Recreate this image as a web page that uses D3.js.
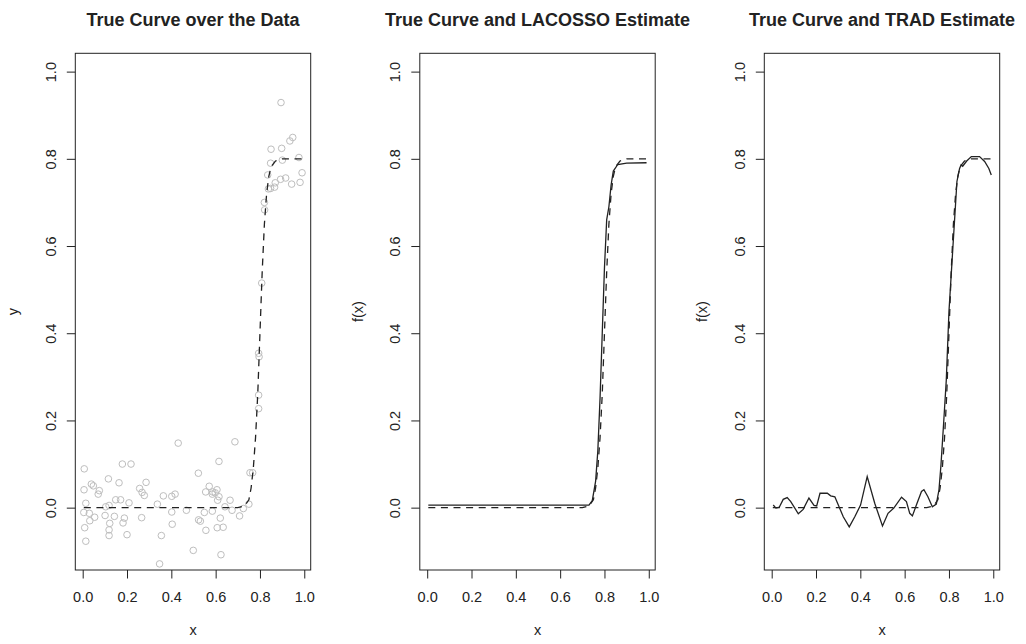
<!DOCTYPE html>
<html>
<head>
<meta charset="utf-8">
<script src="https://d3js.org/d3.v7.min.js"></script>
<style>
  body { margin: 0; background: #fff; }
  svg { font-family: "Liberation Sans", Arial, Helvetica, sans-serif; }
</style>
</head>
<body>
<script>
// data points (x, y)
var dataX = [0.007,0.006,0.014,0.005,0.030,0.009,0.014,0.032,0.054,0.039,
  0.048,0.075,0.070,0.116,0.104,0.119,0.101,0.122,0.119,0.119,
  0.143,0.149,0.171,0.164,0.179,0.218,0.188,0.182,0.200,0.209,
  0.257,0.268,0.278,0.286,0.266,0.337,0.355,0.347,0.364,0.402,
  0.417,0.431,0.402,0.404,0.468,0.499,0.522,0.523,0.531,0.549,
  0.556,0.555,0.571,0.585,0.587,0.606,0.615,0.598,0.615,0.609,
  0.585,0.621,0.607,0.634,0.624,0.642,0.665,0.674,0.687,0.708,
  0.725,0.750,0.755,0.767,0.794,0.794,0.794,0.796,0.808,0.821,
  0.820,0.838,0.848,0.866,0.869,0.893,0.916,0.943,0.981,0.990,
  0.835,0.848,0.850,0.898,0.901,0.935,0.948,0.976,0.895];
var dataY = [0.089,0.041,0.010,-0.011,-0.013,-0.046,-0.077,-0.030,-0.022,0.054,
  0.050,0.039,0.031,0.066,0.002,0.005,-0.018,-0.036,-0.051,-0.064,
  -0.020,0.018,0.018,0.057,0.100,0.100,-0.024,-0.035,-0.062,0.011,
  0.044,0.035,0.028,0.058,-0.023,0.008,-0.064,-0.129,0.027,0.026,
  0.031,0.148,-0.010,-0.038,-0.006,-0.098,0.079,-0.028,-0.031,-0.011,
  -0.052,0.036,0.049,0.031,0.036,0.041,0.106,0.034,0.025,0.017,
  -0.008,-0.024,-0.046,-0.045,-0.108,0.002,0.017,-0.006,0.151,-0.019,
  -0.002,0.008,0.080,0.080,0.227,0.258,0.354,0.346,0.515,0.683,
  0.700,0.731,0.732,0.735,0.745,0.753,0.756,0.742,0.746,0.768,
  0.763,0.790,0.822,0.824,0.797,0.841,0.849,0.803,0.929];

// true curve (dashed)
var trueX = [0.005,0.70,0.73,0.75,0.76,0.77,0.78,0.79,0.80,0.81,0.82,0.83,0.84,0.85,0.87,0.90,0.995];
var trueY = [0,0,0.004,0.018,0.045,0.09,0.16,0.26,0.40,0.54,0.65,0.72,0.76,0.782,0.795,0.80,0.80];

// LACOSSO estimate
var lacX = [0.005,0.73,0.745,0.76,0.77,0.78,0.79,0.80,0.81,0.82,0.83,0.84,0.86,0.90,0.99];
var lacY = [0.006,0.006,0.016,0.06,0.13,0.25,0.40,0.55,0.66,0.69,0.74,0.772,0.787,0.79,0.791];

// TRAD estimate
var tradX = [0.007,0.019,0.034,0.052,0.070,0.086,0.120,0.142,0.168,0.191,
  0.203,0.218,0.251,0.266,0.285,0.323,0.350,0.375,0.401,0.431,
  0.465,0.500,0.525,0.551,0.586,0.608,0.623,0.635,0.653,0.676,
  0.687,0.705,0.725,0.743,0.755,0.764,0.776,0.788,0.80,0.818,
  0.836,0.848,0.855,0.862,0.880,0.901,0.938,0.961,0.980,0.991];
var tradY = [0.006,-0.001,0.001,0.019,0.023,0.014,-0.014,-0.004,0.022,0.005,
  0.004,0.033,0.033,0.027,0.025,-0.021,-0.044,-0.021,0.006,0.071,
  0.010,-0.042,-0.013,-0.001,0.024,0.014,-0.013,-0.019,0.006,0.037,
  0.041,0.025,0.002,0.008,0.041,0.098,0.194,0.293,0.45,0.599,
  0.748,0.778,0.786,0.783,0.795,0.805,0.805,0.794,0.778,0.763];

var tickVals = [0, 0.2, 0.4, 0.6, 0.8, 1.0];
var titles = ["True Curve over the Data", "True Curve and LACOSSO Estimate", "True Curve and TRAD Estimate"];
var yLabels = ["y", "f(x)", "f(x)"];

var svgWidth = 1026;
var svgHeight = 644;
var panelStep = 344.5;
var plot = { left: 75.3, top: 53.3, width: 235.4, height: 516.7 };
var ink = "#222";

var svg = d3.select("body")
  .append("svg")
  .attr("width", svgWidth)
  .attr("height", svgHeight);

var xScale = d3.scaleLinear().domain([-0.0334, 1.029]).range([0, plot.width]);
var yScale = d3.scaleLinear().domain([-0.143, 1.042]).range([plot.height, 0]);

function pairs(xs, ys) {
  return xs.map(function (x, i) { return [x, ys[i]]; });
}

var line = d3.line()
  .x(function (d) { return xScale(d[0]); })
  .y(function (d) { return yScale(d[1]); });

function drawPanel(i) {
  var panel = svg.append("g")
    .attr("transform", "translate(" + (i * panelStep) + ",0)");

  var g = panel.append("g")
    .attr("transform", "translate(" + plot.left + "," + plot.top + ")");

  // x axis
  var xAxis = g.append("g")
    .attr("transform", "translate(0," + plot.height + ")")
    .call(d3.axisBottom(xScale).tickValues(tickVals).tickFormat(d3.format(".1f")).tickSize(8.5).tickSizeOuter(0));
  xAxis.select(".domain").remove();
  xAxis.selectAll("line").attr("stroke", ink);
  xAxis.selectAll("text")
    .attr("y", 31.7).attr("dy", null)
    .attr("fill", ink)
    .style("font-size", "14.5px");

  // y axis, labels turned like R
  var yAxis = g.append("g")
    .call(d3.axisLeft(yScale).tickValues(tickVals).tickFormat(d3.format(".1f")).tickSize(8.5).tickSizeOuter(0));
  yAxis.select(".domain").remove();
  yAxis.selectAll("line").attr("stroke", ink);
  yAxis.selectAll("text")
    .attr("x", 0).attr("dy", null)
    .attr("transform", "translate(-19.8,0) rotate(-90)")
    .attr("text-anchor", "middle")
    .attr("fill", ink)
    .style("font-size", "14.5px");

  // box
  g.append("rect")
    .attr("width", plot.width)
    .attr("height", plot.height)
    .attr("fill", "none")
    .attr("stroke", ink)
    .attr("stroke-width", 1);

  // titles and axis labels
  panel.append("text")
    .attr("x", plot.left + plot.width / 2)
    .attr("y", 25.5)
    .attr("text-anchor", "middle")
    .style("font-size", "18px")
    .style("font-weight", "bold")
    .attr("fill", ink)
    .text(titles[i]);

  panel.append("text")
    .attr("x", plot.left + plot.width / 2)
    .attr("y", 635)
    .attr("text-anchor", "middle")
    .style("font-size", "14.5px")
    .attr("fill", ink)
    .text("x");

  panel.append("text")
    .attr("transform", "translate(18," + (plot.top + plot.height / 2) + ") rotate(-90)")
    .attr("text-anchor", "middle")
    .style("font-size", "14.5px")
    .attr("fill", ink)
    .text(yLabels[i]);

  return g;
}

var g1 = drawPanel(0);
var g2 = drawPanel(1);
var g3 = drawPanel(2);

// panel 1: gray circles + dashed truth
g1.selectAll("circle")
  .data(pairs(dataX, dataY))
  .enter()
  .append("circle")
  .attr("cx", function (d) { return xScale(d[0]); })
  .attr("cy", function (d) { return yScale(d[1]); })
  .attr("r", 3.3)
  .attr("fill", "none")
  .attr("stroke", "#bebebe")
  .attr("stroke-width", 1);

[g1, g2, g3].forEach(function (g) {
  g.append("path")
    .datum(pairs(trueX, trueY))
    .attr("d", line)
    .attr("fill", "none")
    .attr("stroke", ink)
    .attr("stroke-width", 1.3)
    .attr("stroke-dasharray", "7,5.6");
});

g2.append("path")
  .datum(pairs(lacX, lacY))
  .attr("d", line)
  .attr("fill", "none")
  .attr("stroke", ink)
  .attr("stroke-width", 1.3);

g3.append("path")
  .datum(pairs(tradX, tradY))
  .attr("d", line)
  .attr("fill", "none")
  .attr("stroke", ink)
  .attr("stroke-width", 1.3);
</script>
</body>
</html>
